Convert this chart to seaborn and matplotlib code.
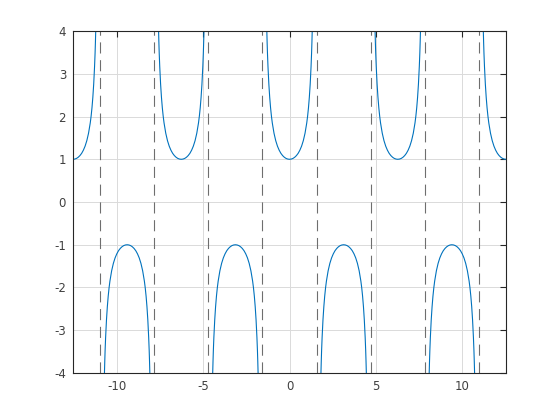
import numpy as np
import pandas as pd
import matplotlib
matplotlib.use("Agg")
import matplotlib.pyplot as plt
import seaborn as sns

# shape of one branch of sec(x): offset from branch centre -> |value|
offsets = [0.0, 0.1, 0.2, 0.3, 0.4, 0.5, 0.6, 0.7, 0.8, 0.9, 1.0, 1.05,
           1.1, 1.15, 1.2, 1.25, 1.28, 1.3, 1.32, 1.34, 1.36]
values = [1.0, 1.005, 1.02, 1.047, 1.086, 1.139, 1.212, 1.307, 1.435, 1.609,
          1.851, 2.01, 2.205, 2.45, 2.76, 3.17, 3.48, 3.74, 4.04, 4.38, 4.80]

# branch centres (multiples of pi) and their sign
centres = [-4 * np.pi, -3 * np.pi, -2 * np.pi, -np.pi, 0.0,
           np.pi, 2 * np.pi, 3 * np.pi, 4 * np.pi]
signs = [1, -1, 1, -1, 1, -1, 1, -1, 1]

# vertical asymptotes (odd multiples of pi/2)
asymptotes = [-3.5 * np.pi, -2.5 * np.pi, -1.5 * np.pi, -0.5 * np.pi,
              0.5 * np.pi, 1.5 * np.pi, 2.5 * np.pi, 3.5 * np.pi]

xticks = [-10, -5, 0, 5, 10]
yticks = [-4, -3, -2, -1, 0, 1, 2, 3, 4]

rows = []
for b, (c, s) in enumerate(zip(centres, signs)):
    full_off = [-o for o in offsets[::-1]] + offsets[1:]
    full_val = values[::-1] + values[1:]
    for o, v in zip(full_off, full_val):
        rows.append({"branch": b, "x": c + o, "y": s * v})
df = pd.DataFrame(rows)

sns.set_style("white")
plt.rcParams["font.family"] = ["DejaVu Sans"]
ink = "#262626"

fig = plt.figure(figsize=(5.6, 4.2), dpi=100)
ax = fig.add_axes([0.1304, 0.112, 0.7732, 0.814])

for b in df["branch"].unique():
    sub = df[df["branch"] == b]
    sns.lineplot(data=sub, x="x", y="y", sort=False, estimator=None,
                 color="#0072BD", linewidth=0.8, ax=ax)

for a in asymptotes:
    ax.axvline(a, color="#6e6e6e", linewidth=0.8, dashes=(10, 6))

ax.set_xlim(-4 * np.pi, 4 * np.pi)
ax.set_ylim(-4, 4)
ax.set_xticks(xticks)
ax.set_yticks(yticks)
ax.set_xticklabels([str(t) for t in xticks])
ax.set_yticklabels([str(t) for t in yticks])
ax.set_xlabel("")
ax.set_ylabel("")
ax.grid(True, color="#dadada", linewidth=0.7)
ax.set_axisbelow(True)
for sp in ax.spines.values():
    sp.set_color(ink)
    sp.set_linewidth(0.8)
ax.tick_params(direction="in", length=4, width=0.8, color=ink,
               labelcolor="#404040", labelsize=8.5, top=True, right=True,
               pad=5)

fig.savefig("out.png", dpi=100)
